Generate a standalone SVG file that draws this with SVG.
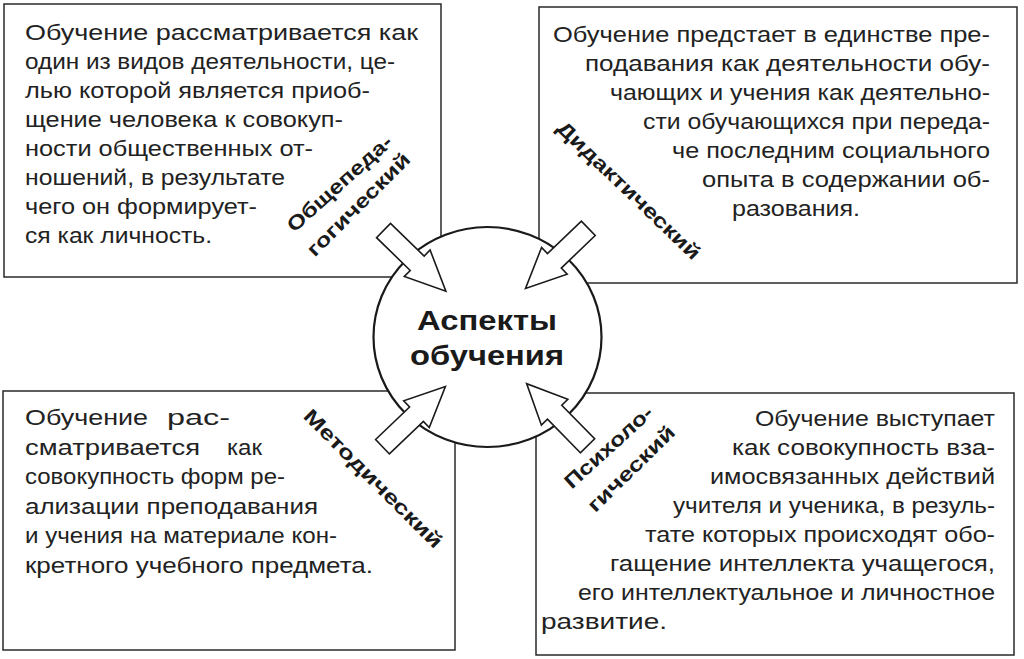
<svg xmlns="http://www.w3.org/2000/svg" width="1024" height="659" viewBox="0 0 1024 659">
<style>
.box{fill:none;stroke:#2a2a2a;stroke-width:1.5}
.t{font-family:"Liberation Sans",Arial,sans-serif;font-size:22px;fill:#222}
.lab{font-family:"Liberation Sans",Arial,sans-serif;font-size:20px;font-weight:bold;fill:#1a1a1a;text-anchor:middle}
.arr{fill:#fff;stroke:#1a1a1a;stroke-width:1.6;stroke-linejoin:miter}
.hub{fill:#fff;stroke:#1a1a1a;stroke-width:2.2}
.hubt{font-family:"Liberation Sans",Arial,sans-serif;font-size:28px;font-weight:bold;fill:#1a1a1a}
</style>
<defs>
<polygon id="blk" points="0,-10 47,-10 47,-18.5 87,0 47,18.5 47,10 0,10"/>
</defs>
<rect width="1024" height="659" fill="#fff"/>

<g id="box-general">
<rect class="box" x="4" y="4" width="437" height="273"/>
<g class="t">
<text x="25" y="39.5" textLength="393" lengthAdjust="spacingAndGlyphs">Обучение рассматривается как</text>
<text x="25" y="68.5" textLength="370" lengthAdjust="spacingAndGlyphs">один из видов деятельности, це-</text>
<text x="25" y="97.5" textLength="345" lengthAdjust="spacingAndGlyphs">лью которой является приоб-</text>
<text x="25" y="126.5" textLength="318" lengthAdjust="spacingAndGlyphs">щение человека к совокуп-</text>
<text x="25" y="155.5" textLength="288" lengthAdjust="spacingAndGlyphs">ности общественных от-</text>
<text x="25" y="184.5" textLength="260" lengthAdjust="spacingAndGlyphs">ношений, в результате</text>
<text x="25" y="213.5" textLength="232" lengthAdjust="spacingAndGlyphs">чего он формирует-</text>
<text x="25" y="242.5" textLength="187" lengthAdjust="spacingAndGlyphs">ся как личность.</text>
</g>
</g>

<g id="box-didactic">
<rect class="box" x="539" y="7" width="478" height="276"/>
<g class="t">
<text x="553" y="41.5" textLength="437" lengthAdjust="spacingAndGlyphs">Обучение предстает в единстве пре-</text>
<text x="585" y="70.5" textLength="405" lengthAdjust="spacingAndGlyphs">подавания как деятельности обу-</text>
<text x="610" y="99.5" textLength="380" lengthAdjust="spacingAndGlyphs">чающих и учения как деятельно-</text>
<text x="643" y="128.5" textLength="347" lengthAdjust="spacingAndGlyphs">сти обучающихся при переда-</text>
<text x="672" y="157.5" textLength="318" lengthAdjust="spacingAndGlyphs">че последним социального</text>
<text x="702" y="186.5" textLength="288" lengthAdjust="spacingAndGlyphs">опыта в содержании об-</text>
<text x="732" y="215.5" textLength="128" lengthAdjust="spacingAndGlyphs">разования.</text>
</g>
</g>

<g id="box-method">
<rect class="box" x="3" y="391" width="452" height="259"/>
<g class="t">
<text x="25" y="425" textLength="123" lengthAdjust="spacingAndGlyphs">Обучение</text>
<text x="167" y="425" textLength="63" lengthAdjust="spacingAndGlyphs">рас-</text>
<text x="25" y="454.5" textLength="175" lengthAdjust="spacingAndGlyphs">сматривается</text>
<text x="227" y="454.5" textLength="35" lengthAdjust="spacingAndGlyphs">как</text>
<text x="25" y="484" textLength="260" lengthAdjust="spacingAndGlyphs">совокупность форм ре-</text>
<text x="25" y="513.5" textLength="293" lengthAdjust="spacingAndGlyphs">ализации  преподавания</text>
<text x="25" y="543" textLength="312" lengthAdjust="spacingAndGlyphs">и учения на материале кон-</text>
<text x="25" y="572.5" textLength="348" lengthAdjust="spacingAndGlyphs">кретного учебного предмета.</text>
</g>
</g>

<g id="box-psych">
<rect class="box" x="536" y="393" width="478" height="262"/>
<g class="t">
<text x="755" y="426" textLength="240" lengthAdjust="spacingAndGlyphs">Обучение выступает</text>
<text x="732" y="455" textLength="263" lengthAdjust="spacingAndGlyphs">как совокупность вза-</text>
<text x="710" y="484" textLength="285" lengthAdjust="spacingAndGlyphs">имосвязанных действий</text>
<text x="673" y="513" textLength="322" lengthAdjust="spacingAndGlyphs">учителя и ученика, в резуль-</text>
<text x="645" y="542" textLength="350" lengthAdjust="spacingAndGlyphs">тате которых происходят обо-</text>
<text x="610" y="571" textLength="385" lengthAdjust="spacingAndGlyphs">гащение интеллекта учащегося,</text>
<text x="578" y="600" textLength="417" lengthAdjust="spacingAndGlyphs">его интеллектуальное и личностное</text>
<text x="541" y="629" textLength="126" lengthAdjust="spacingAndGlyphs">развитие.</text>
</g>
</g>

<g id="hub">
<ellipse class="hub" cx="487.5" cy="337" rx="114" ry="110"/>
<text class="hubt" x="417" y="330" textLength="140" lengthAdjust="spacingAndGlyphs">Аспекты</text>
<text class="hubt" x="410" y="365" textLength="154" lengthAdjust="spacingAndGlyphs">обучения</text>
</g>

<g id="connectors">
<use href="#blk" class="arr" transform="translate(383.5,230.5) rotate(44.2)"/>
<use href="#blk" class="arr" transform="translate(588.3,228.3) rotate(136.2)"/>
<use href="#blk" class="arr" transform="translate(382.5,446.7) rotate(-43.7)"/>
<use href="#blk" class="arr" transform="translate(587.5,445.8) rotate(-134.4)"/>
</g>

<g id="labels">
<text class="lab" transform="translate(340,184) rotate(-42)" x="0" y="6" textLength="134" lengthAdjust="spacingAndGlyphs">Общепеда-</text>
<text class="lab" transform="translate(359,205) rotate(-45)" x="0" y="6" textLength="137" lengthAdjust="spacingAndGlyphs">гогический</text>
<text class="lab" transform="translate(628.3,190.8) rotate(43.8)" x="0" y="6" textLength="190" lengthAdjust="spacingAndGlyphs">Дидактический</text>
<text class="lab" transform="translate(372.5,479.2) rotate(45)" x="0" y="6" textLength="187" lengthAdjust="spacingAndGlyphs">Методический</text>
<text class="lab" transform="translate(609.2,447.5) rotate(-42.3)" x="0" y="6" textLength="112" lengthAdjust="spacingAndGlyphs">Психоло-</text>
<text class="lab" transform="translate(631.7,469.2) rotate(-44.4)" x="0" y="6" textLength="114" lengthAdjust="spacingAndGlyphs">гический</text>
</g>
</svg>
